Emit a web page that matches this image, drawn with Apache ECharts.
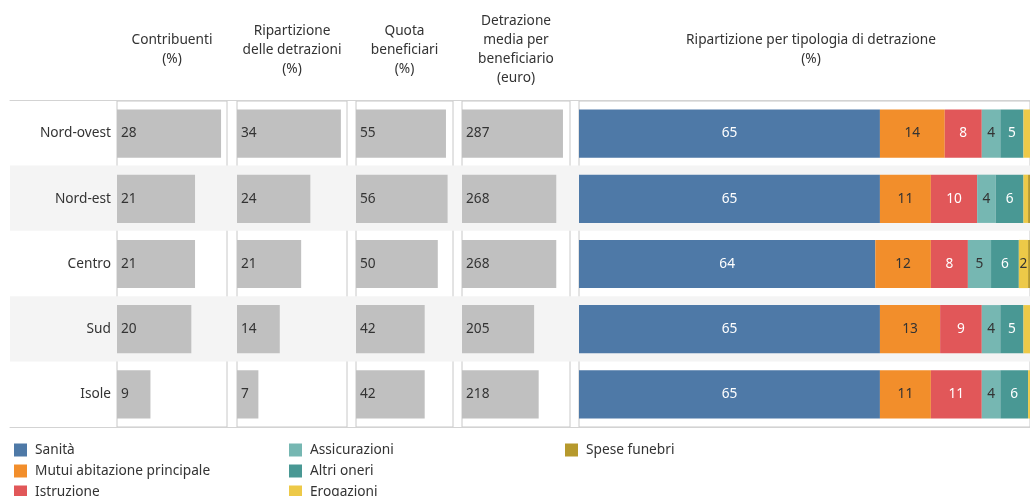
<!DOCTYPE html>
<html>
<head>
<meta charset="utf-8">
<title>Detrazioni per ripartizione territoriale</title>
<script src="https://cdn.jsdelivr.net/npm/echarts@6/dist/echarts.min.js"></script>
<style>
  html, body { margin: 0; padding: 0; background: #ffffff; }
  #chart { width: 1030px; height: 496px; }
</style>
</head>
<body>
<div id="chart"></div>
<script>
// Ripartizioni territoriali (righe della tabella)
const regions = ['Nord-ovest', 'Nord-est', 'Centro', 'Sud', 'Isole'];

// Colonne a barra singola
const contribuenti = [28, 21, 21, 20, 9];          // %
const ripartizioneDetrazioni = [34, 24, 21, 14, 7]; // %
const quotaBeneficiari = [55, 56, 50, 42, 42];      // %
const detrazioneMedia = [287, 268, 268, 205, 218];  // euro

// Ripartizione per tipologia di detrazione (%)
const tipologie = ['Sanità', 'Mutui abitazione principale', 'Istruzione',
  'Assicurazioni', 'Altri oneri', 'Erogazioni', 'Spese funebri'];
const sanita = [65, 65, 64, 65, 65];
const mutui = [14, 11, 12, 13, 11];
const istruzione = [8, 10, 8, 9, 11];
const assicurazioni = [4, 4, 5, 4, 4];
const altriOneri = [5, 6, 6, 5, 6];
const erogazioni = [3, 1, 2, 3, 3];
const speseFunebri = [1, 3, 1, 1, 1];

const headerTexts = [
  'Contribuenti\n(%)',
  'Ripartizione\ndelle detrazioni\n(%)',
  'Quota\nbeneficiari\n(%)',
  'Detrazione\nmedia per\nbeneficiario\n(euro)',
  'Ripartizione per tipologia di detrazione\n(%)'
];

const FONT = '"Noto Sans", "Open Sans", sans-serif';
const FS = 13.7;
const TEXT = '#333333';
const tipoValues = [sanita, mutui, istruzione, assicurazioni, altriOneri, erogazioni, speseFunebri];
const tipoColors = ['#4e79a7', '#f28e2b', '#e15759', '#76b7b2', '#499894', '#edc948', '#b6992d'];
const tipoLabelColors = ['#ffffff', '#333333', '#ffffff', '#333333', '#ffffff', '#333333', '#ffffff'];

// Layout of the panels (pixel boxes) and their value-axis maxima.
// The last panel runs past the right edge of the page: its full 0–100 scale is
// 464 px wide, of which only the first 452 px are laid out here.
const TOP = 101, HEIGHT = 326;
const PX_PER_PCT = 4.64;
const panels = [
  { left: 117, width: 110, max: 29.6 },
  { left: 237, width: 110, max: 36 },
  { left: 356, width: 97, max: 59.3 },
  { left: 462, width: 108, max: 307 },
  { left: 579, width: 452, max: 452 / PX_PER_PCT }
];
const stackCentre = 579 + 100 * PX_PER_PCT / 2;
const singleSeries = [contribuenti, ripartizioneDetrazioni, quotaBeneficiari, detrazioneMedia];

const chart = echarts.init(document.getElementById('chart'), null, { renderer: 'canvas' });

const grids = [{ left: 10, top: 100, width: 1020, height: 327, show: false }];
const xAxes = [
  { gridIndex: 0, type: 'value', position: 'top', min: 0, max: 1,
    axisLine: { show: true, lineStyle: { color: '#d3d3d3', width: 1 } },
    axisTick: { show: false }, axisLabel: { show: false }, splitLine: { show: false } },
  { gridIndex: 0, type: 'value', position: 'bottom', min: 0, max: 1,
    axisLine: { show: true, lineStyle: { color: '#d3d3d3', width: 1 } },
    axisTick: { show: false }, axisLabel: { show: false }, splitLine: { show: false } }
];
const yAxes = [
  { gridIndex: 0, type: 'category', data: regions, inverse: true,
    axisLine: { show: false }, axisTick: { show: false }, axisLabel: { show: false },
    splitLine: { show: false },
    splitArea: { show: true, areaStyle: { color: ['rgba(255,255,255,0)', '#f4f4f4'] } } }
];

panels.forEach((p, i) => {
  grids.push({ left: p.left, top: TOP, width: p.width, height: HEIGHT, show: true,
    borderColor: '#c8c8c8', borderWidth: 1, backgroundColor: 'transparent' });
  xAxes.push({ gridIndex: i + 1, type: 'value', min: 0, max: p.max,
    axisLine: { show: false }, axisTick: { show: false }, axisLabel: { show: false },
    splitLine: { show: false } });
  yAxes.push({ gridIndex: i + 1, type: 'category', data: regions, inverse: true,
    axisLine: { show: false }, axisTick: { show: false }, splitLine: { show: false },
    axisLabel: { show: i === 0, color: TEXT, fontSize: FS, fontFamily: FONT, margin: 6 } });
});

const series = [];
singleSeries.forEach((vals, i) => {
  series.push({
    type: 'bar', xAxisIndex: i + 2, yAxisIndex: i + 1, data: vals,
    barWidth: '74%', itemStyle: { color: '#c0c0c0' },
    label: { show: true, position: 'insideLeft', distance: 4, color: TEXT,
      fontSize: FS, fontFamily: FONT },
    emphasis: { disabled: true }, silent: true
  });
});

tipologie.forEach((name, k) => {
  series.push({
    type: 'bar', name: name, stack: 'tipologia', xAxisIndex: 6, yAxisIndex: 5,
    data: tipoValues[k].slice(), barWidth: '74%',
    itemStyle: { color: tipoColors[k] },
    label: { show: true, position: 'inside', color: tipoLabelColors[k],
      fontSize: FS, fontFamily: FONT },
    emphasis: { disabled: true }, silent: true
  });
});

// Legend columns, each listed top to bottom; the box is taller than the page
// so the last row is cut by the bottom edge instead of wrapping.
const legendBase = {
  orient: 'vertical', top: 443, height: 80, itemWidth: 13, itemHeight: 13, itemGap: 7,
  icon: 'rect', padding: 0, selectedMode: false,
  textStyle: { color: TEXT, fontSize: FS, fontFamily: FONT, lineHeight: 13,
    padding: [0, 0, 0, 3] }
};

const graphics = headerTexts.map((t, i) => ({
  type: 'text',
  x: i < 4 ? panels[i].left + panels[i].width / 2 : stackCentre,
  y: 50,
  silent: true,
  style: { text: t, align: 'center', verticalAlign: 'middle', fill: TEXT,
    font: FS + 'px ' + FONT, lineHeight: 19 }
}));

chart.setOption({
  animation: false,
  backgroundColor: '#ffffff',
  grid: grids,
  xAxis: xAxes,
  yAxis: yAxes,
  legend: [
    Object.assign({}, legendBase, { left: 14, data: tipologie.slice(0, 3) }),
    Object.assign({}, legendBase, { left: 289, data: tipologie.slice(3, 6) }),
    Object.assign({}, legendBase, { left: 565, data: tipologie.slice(6) })
  ],
  graphic: graphics,
  series: series
});

// Segment labels are kept only when the segment is wide enough and its centre lies in view
const viewWidth = chart.getWidth();
const cumulative = regions.map(() => 0);
const stackedData = tipoValues.map((vals) => vals.map((v, r) => {
  const x0 = chart.convertToPixel({ xAxisIndex: 6 }, cumulative[r]);
  const x1 = chart.convertToPixel({ xAxisIndex: 6 }, cumulative[r] + v);
  cumulative[r] += v;
  const fits = (x1 - x0) >= 8 && (x0 + x1) / 2 <= viewWidth;
  return { value: v, label: { show: fits } };
}));

chart.setOption({
  series: series.map((s, i) => i < 4 ? {} : { data: stackedData[i - 4] })
});
</script>
</body>
</html>
